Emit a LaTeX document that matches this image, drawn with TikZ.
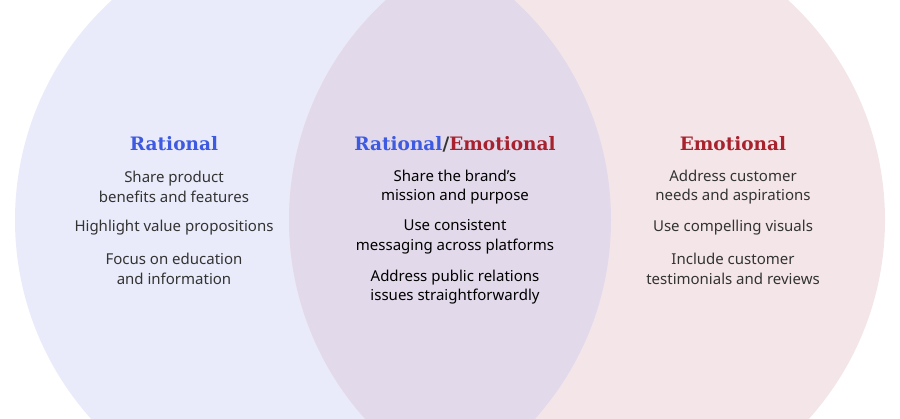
\documentclass[tikz,border=0pt]{standalone}
\usepackage{fontspec}
\setmainfont{Noto Sans}
\newfontfamily\headfont{DejaVu Serif}
\definecolor{lbl}{HTML}{E9EBFA}
\definecolor{rpk}{HTML}{F4E6E8}
\definecolor{mid}{HTML}{E2D9EA}
\definecolor{hblue}{HTML}{3D5AE0}
\definecolor{hred}{HTML}{A8222E}
\definecolor{txt}{HTML}{333333}
\begin{document}
\begin{tikzpicture}[x=1pt,y=-1pt,
  head/.style={font=\headfont\bfseries\fontsize{18.5}{22}\selectfont},
  item/.style={font=\fontsize{15}{19.5}\selectfont,text=txt,align=center,inner sep=0}]
\useasboundingbox (0,0) rectangle (900,418);
\clip (0,0) rectangle (900,418);
\fill[lbl] (313,220) circle (298);
\fill[rpk] (587,220) circle (298);
\begin{scope}
\clip (313,220) circle (298);
\fill[mid] (587,220) circle (298);
\end{scope}
\node[head,text=hblue] (h1) at (174,144) {Rational};
\node[head] (h2) at (455,144) {\textcolor{hblue}{Rational}\textcolor{txt}{/}\textcolor{hred}{Emotional}};
\node[head,text=hred] (h3) at (733,144) {Emotional};
\node[item] (a1) at (174,187) {Share product\\benefits and features};
\node[item] (a2) at (174,228) {Highlight value propositions};
\node[item] (a3) at (174,269) {Focus on education\\and information};
\node[item,text=black] (b1) at (455,187) {Share the brand’s\\mission and purpose};
\node[item,text=black] (b2) at (455,237) {Use consistent\\messaging across platforms};
\node[item,text=black] (b3) at (455,287) {Address public relations\\issues straightforwardly};
\node[item] (c1) at (733,187) {Address customer\\needs and aspirations};
\node[item] (c2) at (733,228) {Use compelling visuals};
\node[item] (c3) at (733,269) {Include customer\\testimonials and reviews};
\end{tikzpicture}
\end{document}
